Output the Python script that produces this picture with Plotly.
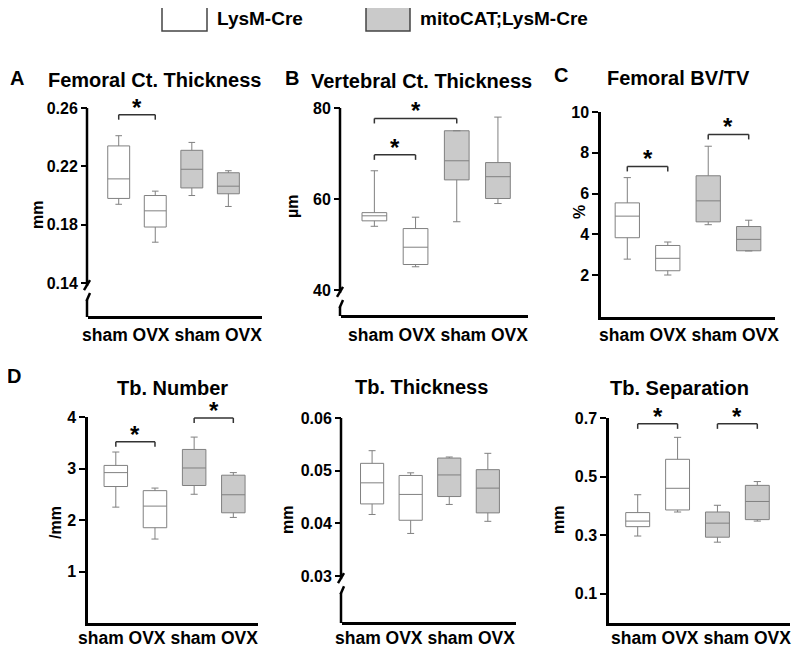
import plotly.graph_objects as go

# ---------------- data ----------------
groups = ["LysM-Cre", "mitoCAT;LysM-Cre"]
categories = ["LysM-Cre sham", "LysM-Cre OVX", "mitoCAT;LysM-Cre sham", "mitoCAT;LysM-Cre OVX"]
tick_labels = ["sham", "OVX", "sham", "OVX"]

panel_titles = ["Femoral Ct. Thickness", "Vertebral Ct. Thickness", "Femoral BV/TV",
                "Tb. Number", "Tb. Thickness", "Tb. Separation"]
panel_letters = ["A", "B", "C", "D", "", ""]
y_titles = ["mm", "µm", "%", "/mm", "mm", "mm"]

# Femoral cortical thickness (mm)
fem_ct_low = [0.194, 0.168, 0.200, 0.1925]
fem_ct_q1 = [0.198, 0.1784, 0.2052, 0.2012]
fem_ct_med = [0.2114, 0.1895, 0.218, 0.2064]
fem_ct_q3 = [0.234, 0.200, 0.231, 0.2156]
fem_ct_high = [0.241, 0.203, 0.2364, 0.217]

# Vertebral cortical thickness (µm)
vert_ct_low = [54.0, 45.1, 55.0, 59.0]
vert_ct_q1 = [55.2, 45.6, 64.2, 60.1]
vert_ct_med = [56.3, 49.4, 68.4, 64.9]
vert_ct_q3 = [57.0, 53.5, 75.0, 68.0]
vert_ct_high = [66.2, 56.0, 75.0, 78.0]

# Femoral BV/TV (%)
bvtv_low = [2.78, 2.0, 4.47, 3.18]
bvtv_q1 = [3.83, 2.21, 4.61, 3.19]
bvtv_med = [4.89, 2.82, 5.64, 3.75]
bvtv_q3 = [5.54, 3.45, 6.87, 4.38]
bvtv_high = [6.78, 3.62, 8.32, 4.69]

# Tb. Number (/mm)
tbn_low = [2.25, 1.63, 2.50, 2.05]
tbn_q1 = [2.65, 1.85, 2.67, 2.14]
tbn_med = [2.92, 2.27, 3.01, 2.49]
tbn_q3 = [3.06, 2.57, 3.37, 2.87]
tbn_high = [3.32, 2.62, 3.61, 2.92]

# Tb. Thickness (mm)
tbth_low = [0.0417, 0.0381, 0.0436, 0.0404]
tbth_q1 = [0.0437, 0.0406, 0.0451, 0.0420]
tbth_med = [0.0477, 0.0455, 0.0492, 0.0467]
tbth_q3 = [0.0514, 0.0491, 0.0524, 0.0502]
tbth_high = [0.0538, 0.0496, 0.0526, 0.0533]

# Tb. Separation (mm)
tbsp_low = [0.297, 0.379, 0.276, 0.348]
tbsp_q1 = [0.329, 0.386, 0.293, 0.353]
tbsp_med = [0.348, 0.460, 0.341, 0.415]
tbsp_q3 = [0.377, 0.559, 0.379, 0.470]
tbsp_high = [0.438, 0.634, 0.402, 0.483]

# y tick values per panel
fem_ct_ticks = [0.14, 0.18, 0.22, 0.26]
vert_ct_ticks = [40, 60, 80]
bvtv_ticks = [2, 4, 6, 8, 10]
tbn_ticks = [1, 2, 3, 4]
tbth_ticks = [0.03, 0.04, 0.05, 0.06]
tbsp_ticks = [0.1, 0.3, 0.5, 0.7]

# significance brackets: (first category index, second category index, bracket height)
fem_ct_sig = [(0, 1, 0.2554)]
vert_ct_sig = [(0, 2, 77.7), (0, 1, 69.7)]
bvtv_sig = [(0, 1, 7.33), (2, 3, 8.9)]
tbn_sig = [(0, 1, 3.52), (2, 3, 3.98)]
tbth_sig = []
tbsp_sig = [(0, 1, 0.68), (2, 3, 0.68)]

# ---------------- layout spec ----------------
# The page body has an 8px margin, so the figure is shrunk by it and
# every page-pixel position is shifted accordingly.
OX, OY = 8, 8
W, H = 800 - OX, 654 - OY
FONT = "Liberation Sans, Arial, Helvetica, sans-serif"
BOX_LINE = "#808080"
GROUP_FILL = ["white", "#cacaca"]

panels = [
    dict(low=fem_ct_low, q1=fem_ct_q1, med=fem_ct_med, q3=fem_ct_q3, high=fem_ct_high,
         ticks=fem_ct_ticks, fmt="{:.2f}", sig=fem_ct_sig, yrange=[0.1174, 0.26], brk=True,
         xpx=[88, 262], ypx=[108, 316], xrange=[-0.84, 3.92], xlab=(172, 335),
         title_xy=(154, 80), letter_xy=(17, 78), ytitle_xy=(38, 215)),
    dict(low=vert_ct_low, q1=vert_ct_q1, med=vert_ct_med, q3=vert_ct_q3, high=vert_ct_high,
         ticks=vert_ct_ticks, fmt="{:.0f}", sig=vert_ct_sig, yrange=[34.5, 80], brk=True,
         xpx=[341, 528], ypx=[108, 315], xrange=[-0.81, 3.73], xlab=(438, 335),
         title_xy=(421, 81), letter_xy=(292, 78), ytitle_xy=(292, 207)),
    dict(low=bvtv_low, q1=bvtv_q1, med=bvtv_med, q3=bvtv_q3, high=bvtv_high,
         ticks=bvtv_ticks, fmt="{:.0f}", sig=bvtv_sig, yrange=[-0.06, 10], brk=False,
         xpx=[601, 775], ypx=[112, 317], xrange=[-0.65, 3.65], xlab=(689, 335),
         title_xy=(678, 78), letter_xy=(561, 75), ytitle_xy=(579, 212)),
    dict(low=tbn_low, q1=tbn_q1, med=tbn_med, q3=tbn_q3, high=tbn_high,
         ticks=tbn_ticks, fmt="{:.0f}", sig=tbn_sig, yrange=[0, 4], brk=False,
         xpx=[88, 258], ypx=[417, 623], xrange=[-0.71, 3.63], xlab=(168, 638),
         title_xy=(172, 388), letter_xy=(14, 376), ytitle_xy=(55, 523)),
    dict(low=tbth_low, q1=tbth_q1, med=tbth_med, q3=tbth_q3, high=tbth_high,
         ticks=tbth_ticks, fmt="{:.2f}", sig=tbth_sig, yrange=[0.0213, 0.06], brk=True,
         xpx=[342, 516], ypx=[418, 622], xrange=[-0.78, 3.73], xlab=(425, 638),
         title_xy=(421, 387), letter_xy=None, ytitle_xy=(287, 520)),
    dict(low=tbsp_low, q1=tbsp_q1, med=tbsp_med, q3=tbsp_q3, high=tbsp_high,
         ticks=tbsp_ticks, fmt="{:.1f}", sig=tbsp_sig, yrange=[0, 0.7], brk=False,
         xpx=[609, 790], ypx=[418, 623], xrange=[-0.72, 3.82], xlab=(701, 638),
         title_xy=(679, 388), letter_xy=None, ytitle_xy=(558, 520)),
]


def px_x(x):
    return (x - OX) / W


def px_y(y):
    return 1 - (y - OY) / H


fig = go.Figure()
layout = dict()
shapes = []
annotations = []

for k, p in enumerate(panels):
    n = "" if k == 0 else str(k + 1)
    xa, ya = "x" + n, "y" + n
    # boxes
    for g in range(2):
        idx = [2 * g, 2 * g + 1]
        fig.add_trace(go.Box(
            x=[categories[i] for i in idx],
            q1=[p["q1"][i] for i in idx],
            median=[p["med"][i] for i in idx],
            q3=[p["q3"][i] for i in idx],
            lowerfence=[p["low"][i] for i in idx],
            upperfence=[p["high"][i] for i in idx],
            name=groups[g], fillcolor=GROUP_FILL[g],
            line=dict(color=BOX_LINE, width=1),
            width=0.6, whiskerwidth=0.3, boxpoints=False,
            showlegend=False, xaxis=xa, yaxis=ya,
        ))

    xd = [px_x(p["xpx"][0]), px_x(p["xpx"][1])]
    yd = [px_y(p["ypx"][1]), px_y(p["ypx"][0])]
    layout["xaxis" + n] = dict(
        domain=xd, anchor=ya, type="category", range=p["xrange"],
        categoryorder="array", categoryarray=categories,
        tickvals=categories, ticktext=tick_labels, showticklabels=False,
        showline=True, linecolor="black", linewidth=2.5, mirror=False, ticks="",
        showgrid=False, zeroline=False, fixedrange=True, automargin=False,
    )
    layout["yaxis" + n] = dict(
        domain=yd, anchor=xa, range=p["yrange"],
        tickvals=p["ticks"], ticktext=[p["fmt"].format(v) for v in p["ticks"]],
        showline=not p["brk"], linecolor="black", linewidth=2.5,
        ticks="outside", ticklen=6, tickwidth=2, tickcolor="black",
        tickfont=dict(family=FONT, size=16, color="black", weight="bold"),
        showgrid=False, zeroline=False, fixedrange=True, automargin=False,
    )

    # group labels under the x axis (one text line, as in the original figure)
    lx_, ly_ = p["xlab"]
    annotations.append(dict(xref="paper", yref="paper", x=px_x(lx_), y=px_y(ly_),
                            text=" ".join(tick_labels), showarrow=False,
                            xanchor="center", yanchor="middle",
                            font=dict(family=FONT, size=17.5, color="black", weight="bold")))

    r0, r1 = p["yrange"]
    hpx = p["ypx"][1] - p["ypx"][0]
    unit_per_px = (r1 - r0) / hpx

    # significance brackets and stars
    for (i, j, h) in p["sig"]:
        d = 5 * unit_per_px
        lc = dict(color="#333333", width=1.5)
        shapes.append(dict(type="line", xref=xa, yref=ya, x0=categories[i], x1=categories[j],
                           y0=h, y1=h, line=lc))
        shapes.append(dict(type="line", xref=xa, yref=ya, x0=categories[i], x1=categories[i],
                           y0=h, y1=h - d, line=lc))
        shapes.append(dict(type="line", xref=xa, yref=ya, x0=categories[j], x1=categories[j],
                           y0=h, y1=h - d, line=lc))
        annotations.append(dict(xref=xa, yref=ya, x=(i + j) / 2, y=h, text="*",
                                showarrow=False, yanchor="bottom", yshift=-8,
                                font=dict(family=FONT, size=24, color="black", weight="bold")))

    # broken y axis drawn manually
    if p["brk"]:
        x0 = p["xpx"][0] - 1
        tick_px = p["ypx"][1] - (p["ticks"][0] - r0) / unit_per_px
        top = p["ypx"][0]
        bot = p["ypx"][1] + 1
        blk = dict(color="black", width=2.5)
        segs = [
            (x0, top, x0, tick_px + 3),
            (x0 - 3, tick_px + 7, x0 + 3, tick_px - 3),
            (x0, tick_px + 17, x0, bot),
            (x0 - 0.5, tick_px + 18, x0 + 3, tick_px + 10),
        ]
        for (ax, ay, bx, by) in segs:
            shapes.append(dict(type="line", xref="paper", yref="paper",
                               x0=px_x(ax), y0=px_y(ay), x1=px_x(bx), y1=px_y(by), line=blk))

    # titles
    tx, ty = p["title_xy"]
    annotations.append(dict(xref="paper", yref="paper", x=px_x(tx), y=px_y(ty),
                            text=panel_titles[k], showarrow=False, xanchor="center", yanchor="middle",
                            font=dict(family=FONT, size=20, color="black", weight="bold")))
    if p["letter_xy"]:
        lx, ly = p["letter_xy"]
        annotations.append(dict(xref="paper", yref="paper", x=px_x(lx), y=px_y(ly),
                                text=panel_letters[k], showarrow=False, xanchor="center", yanchor="middle",
                                font=dict(family=FONT, size=20, color="black", weight="bold")))
    yx, yy = p["ytitle_xy"]
    annotations.append(dict(xref="paper", yref="paper", x=px_x(yx), y=px_y(yy),
                            text=y_titles[k], showarrow=False, textangle=-90,
                            xanchor="center", yanchor="middle",
                            font=dict(family=FONT, size=16, color="black", weight="bold")))

# legend drawn at top
legend_boxes = [(162, 207), (366, 410)]
legend_text_x = [215, 418]
for g in range(2):
    bx0, bx1 = legend_boxes[g]
    shapes.append(dict(type="rect", xref="paper", yref="paper",
                       x0=px_x(bx0), x1=px_x(bx1), y0=px_y(31), y1=px_y(7),
                       fillcolor=GROUP_FILL[g], line=dict(color="#444444", width=1.5)))
    annotations.append(dict(xref="paper", yref="paper", x=px_x(legend_text_x[g]), y=px_y(19),
                            text=groups[g], showarrow=False, xanchor="left", yanchor="middle",
                            font=dict(family=FONT, size=19, color="black", weight="bold")))

fig.update_layout(
    width=W, height=H, margin=dict(l=0, r=0, t=0, b=0, autoexpand=False),
    paper_bgcolor="white", plot_bgcolor="white",
    showlegend=False, boxmode="overlay",
    shapes=shapes, annotations=annotations,
    font=dict(family=FONT, color="black"),
    **layout,
)

fig.write_html("out.html")
